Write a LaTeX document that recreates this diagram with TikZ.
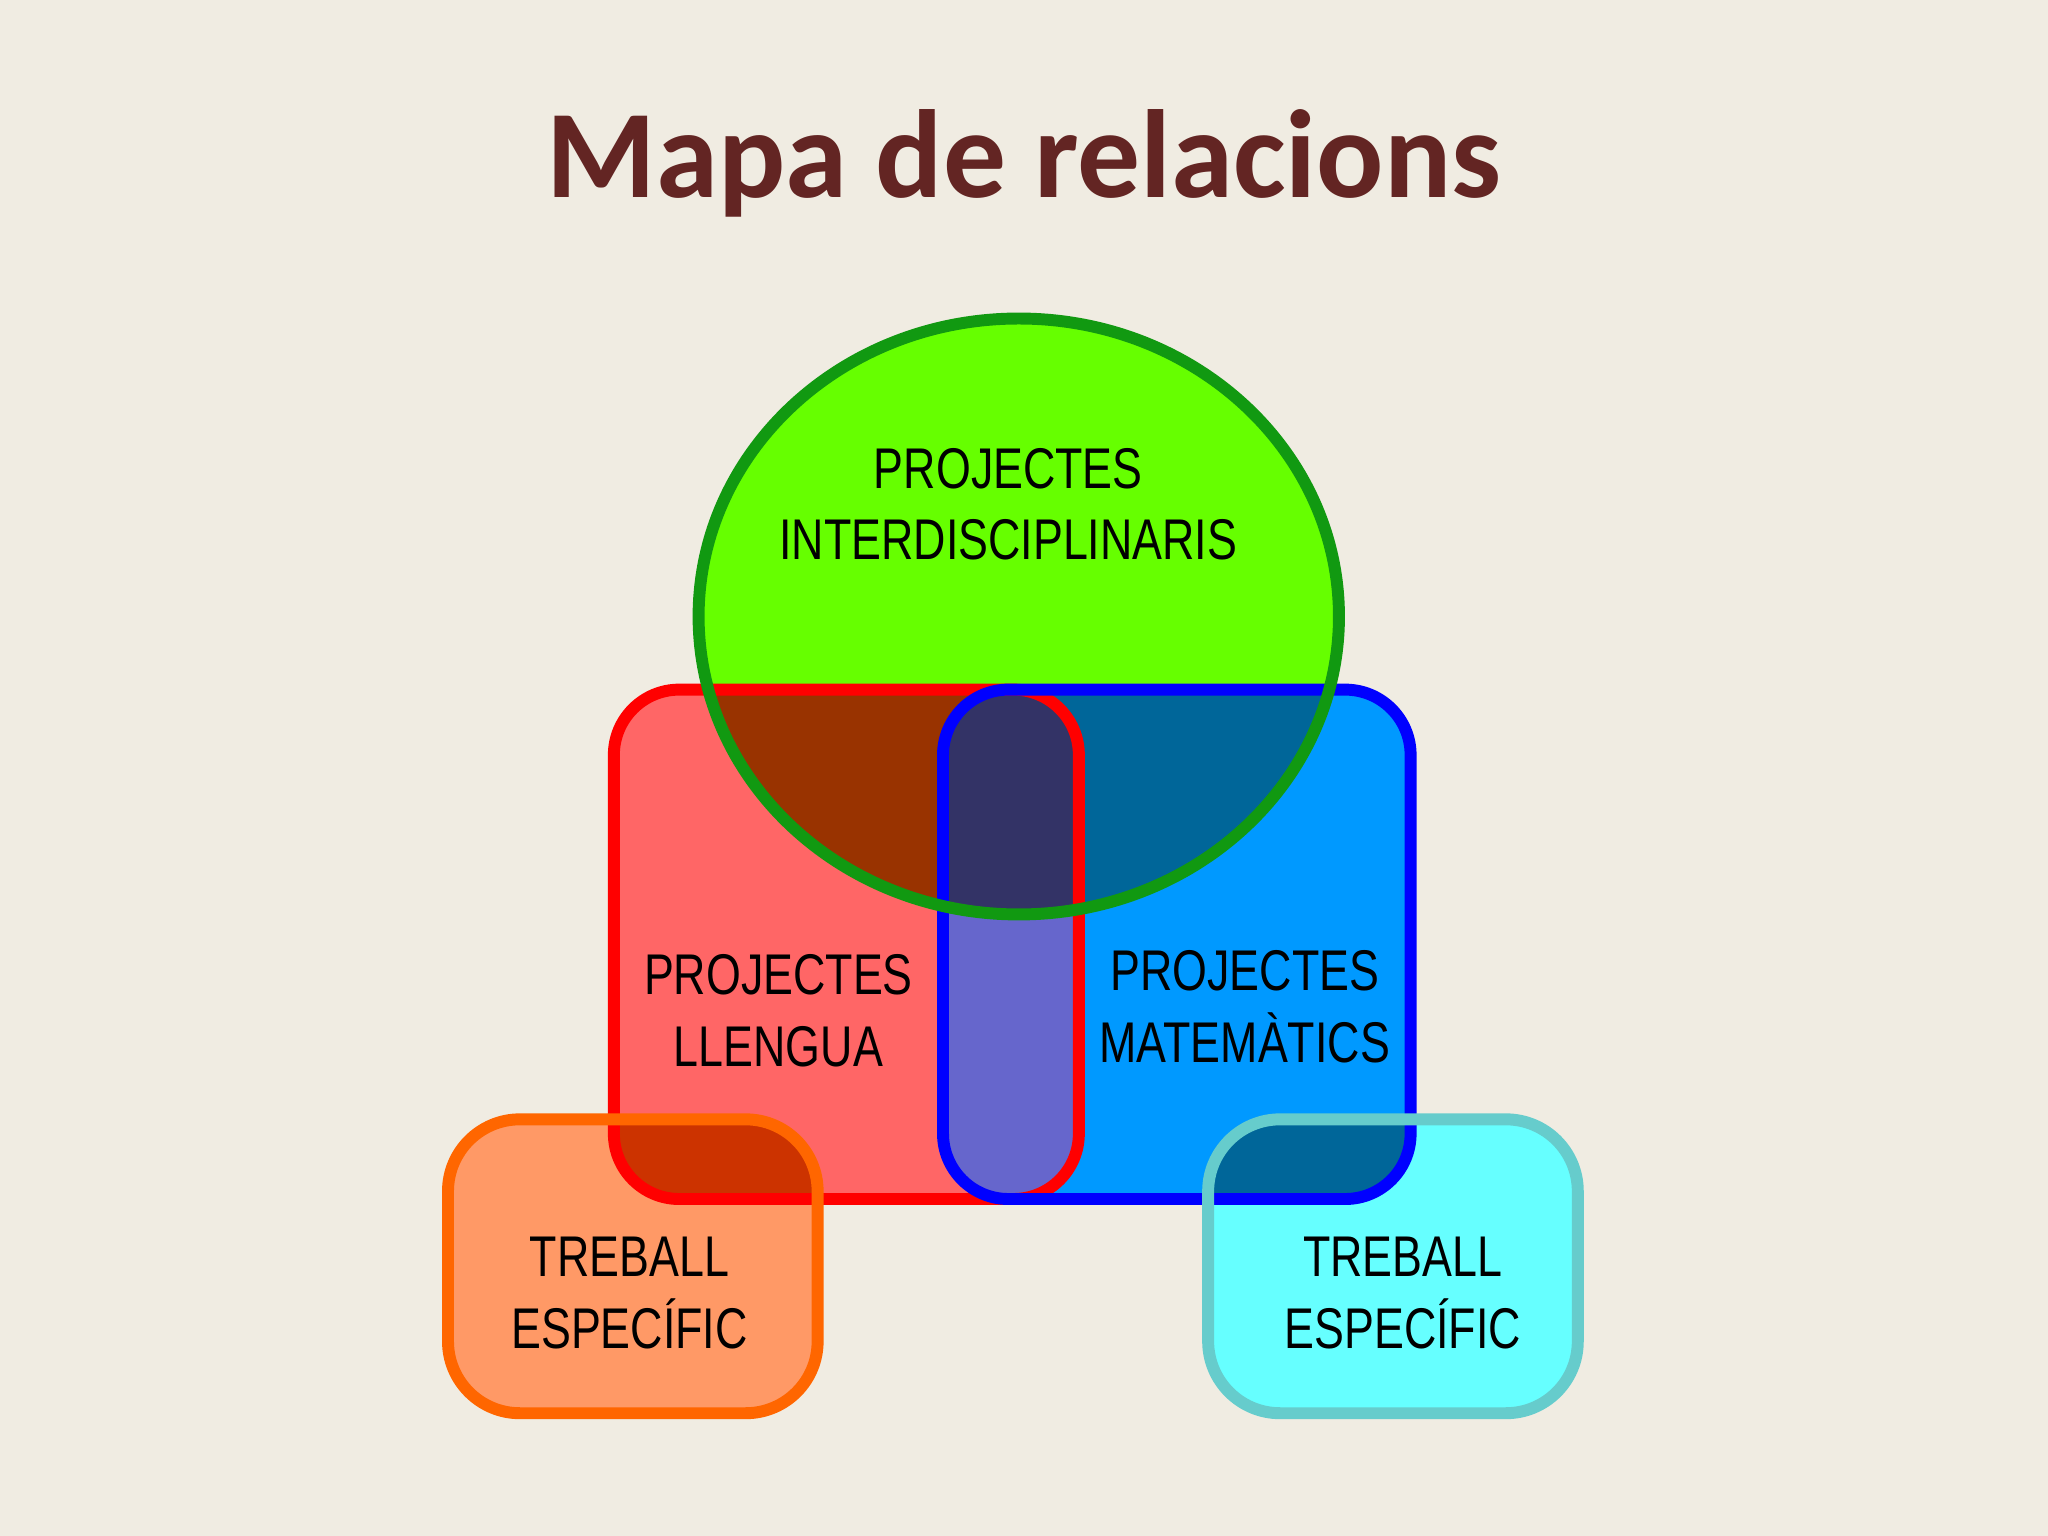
\documentclass[tikz,border=0pt]{standalone}
\usepackage{fontspec}
\newfontfamily\titlefont{Carlito}
\newfontfamily\hand[FakeStretch=0.78]{Liberation Sans}
\definecolor{bg}{HTML}{F0ECE2}
\definecolor{titlec}{HTML}{632523}
\definecolor{gfill}{HTML}{66FF00}
\definecolor{gline}{HTML}{119911}
\definecolor{rfill}{HTML}{FF6666}
\definecolor{rline}{HTML}{FF0000}
\definecolor{bfill}{HTML}{0099FF}
\definecolor{bline}{HTML}{0000FF}
\definecolor{ofill}{HTML}{FF9966}
\definecolor{oline}{HTML}{FF6600}
\definecolor{cfill}{HTML}{66FFFF}
\definecolor{cline}{HTML}{66CCCC}
\definecolor{rg}{HTML}{993300}
\definecolor{bg2}{HTML}{006699}
\definecolor{rb}{HTML}{6666CC}
\definecolor{rgb}{HTML}{333366}
\definecolor{ro}{HTML}{CC3300}
\begin{document}
\begin{tikzpicture}[x=0.01cm,y=-0.01cm,
  lab/.style={font=\hand\fontsize{12.5}{15.6}\selectfont, align=center, text=black},
  bord/.style={line width=2.6pt}]
\fill[bg] (0,0) rectangle (1568,1176);
\useasboundingbox (0,0) rectangle (1568,1176);
\def\G{(780,472) ellipse [x radius=2.45cm, y radius=2.28cm]}
\def\R{[rounded corners=0.5cm] (470,528) rectangle (826,918)}
\def\B{[rounded corners=0.5cm] (722,528) rectangle (1080,918)}
\def\O{[rounded corners=0.55cm] (343,857) rectangle (626,1082)}
\def\C{[rounded corners=0.55cm] (925,857) rectangle (1208,1082)}
\node[font=\titlefont\bfseries\fontsize{27.3}{30}\selectfont, text=titlec] (title) at (784,125) {Mapa de relacions};
% fills
\fill[gfill] \G;
\fill[rfill] \R;
\fill[bfill] \B;
\fill[ofill] \O;
\fill[cfill] \C;
% intersections
\begin{scope}\clip \G; \fill[rg] \R; \fill[bg2] \B; \end{scope}
\begin{scope}\clip \R; \fill[rb] \B; \end{scope}
\begin{scope}\clip \R; \clip \B; \fill[rgb] \G; \end{scope}
\begin{scope}\clip \O; \fill[ro] \R; \end{scope}
\begin{scope}\clip \C; \fill[bg2] \B; \end{scope}
% borders
\draw[bord, rline] \R;
\draw[bord, bline] \B;
\draw[bord, gline] \G;
\draw[bord, oline] \O;
\draw[bord, cline] \C;
% labels
\node[lab] (pi) at (772,386) {PROJECTES\\INTERDISCIPLINARIS};
\node[lab] (pl) at (596,774) {PROJECTES\\LLENGUA};
\node[lab] (pm) at (953,771) {PROJECTES\\MATEMÀTICS};
\node[lab] (to) at (482,990) {TREBALL\\ESPECÍFIC};
\node[lab] (tc) at (1074,990) {TREBALL\\ESPECÍFIC};
\end{tikzpicture}
\end{document}
